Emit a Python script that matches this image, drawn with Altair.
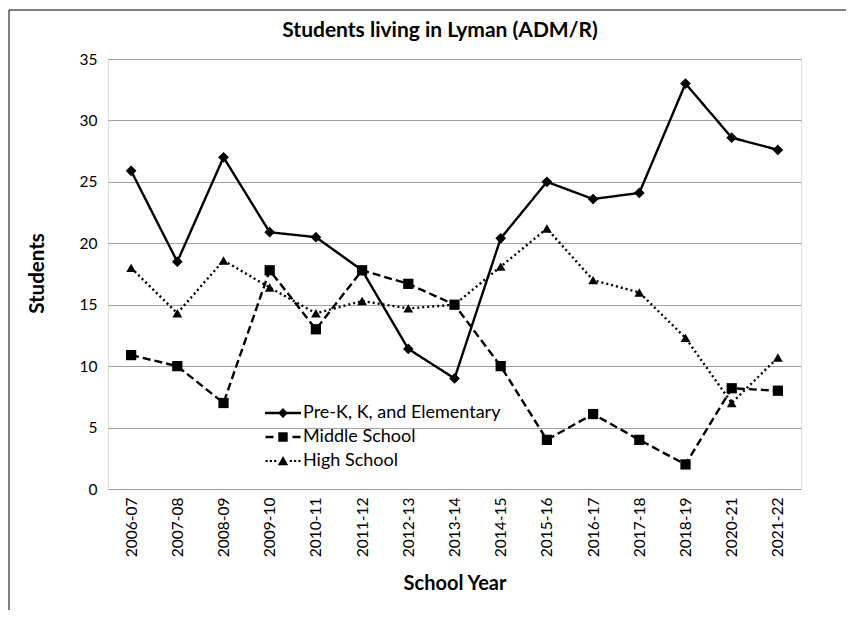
import altair as alt
import pandas as pd

years = ["2006-07", "2007-08", "2008-09", "2009-10", "2010-11", "2011-12", "2012-13",
         "2013-14", "2014-15", "2015-16", "2016-17", "2017-18", "2018-19", "2020-21", "2021-22"]
series_names = ["Pre-K, K, and Elementary", "Middle School", "High School"]
elementary = [25.9, 18.5, 27.0, 20.9, 20.5, 17.8, 11.4, 9.0, 20.4, 25.0, 23.6, 24.1, 33.0, 28.6, 27.6]
middle = [10.9, 10.0, 7.0, 17.8, 13.0, 17.8, 16.7, 15.0, 10.0, 4.0, 6.1, 4.0, 2.0, 8.2, 8.0]
high = [18.0, 14.3, 18.6, 16.4, 14.3, 15.3, 14.7, 15.0, 18.1, 21.2, 17.0, 16.0, 12.3, 7.0, 10.7]
title_text = "Students living in Lyman (ADM/R)"

rows = []
for name, vals in zip(series_names, [elementary, middle, high]):
    for y, v in zip(years, vals):
        rows.append({"year": y, "series": name, "value": v, "lg": name})
df = pd.DataFrame(rows)

FONT = "Lato"
x = alt.X("year:N", sort=years, scale=alt.Scale(domain=years, paddingInner=0, paddingOuter=0.5),
          axis=alt.Axis(title="School Year", labelAngle=-90, labelFont=FONT,
                        labelFontSize=15.5, labelColor="black", labelPadding=8, ticks=False,
                        domain=False, titleFont=FONT, titleFontSize=20, titleFontWeight="bold",
                        titleColor="black", titleY=94, titleBaseline="middle"))
y = alt.Y("value:Q", scale=alt.Scale(domain=[0, 35], nice=False),
          axis=alt.Axis(title="Students", values=[0, 5, 10, 15, 20, 25, 30, 35], ticks=False,
                        domain=False, labelFont=FONT, labelFontSize=15.5, labelColor="black",
                        labelPadding=11, gridColor="#a0a0a0", gridWidth=1,
                        titleFont=FONT, titleFontSize=20.5, titleFontWeight="bold",
                        titleColor="black", titleX=-71, titleY=214, titleBaseline="middle",
                        titleAlign="center"))

base = alt.Chart(df)

lines = base.mark_line(color="black", strokeWidth=2.4).encode(
    x=x, y=y, detail="series:N",
    strokeDash=alt.StrokeDash("series:N", scale=alt.Scale(domain=series_names,
                              range=[[1, 0], [8, 4], [2, 3]]), legend=None),
)

points = base.mark_point(filled=True, color="black", opacity=1).encode(
    x=x, y=y,
    shape=alt.Shape("series:N", scale=alt.Scale(domain=series_names,
                    range=["diamond", "square", "triangle-up"]), legend=None),
    size=alt.Size("series:N", scale=alt.Scale(domain=series_names, range=[115, 95, 130]), legend=None),
)

p_el = "M-1.8,-0.12H1.8V0.12H-1.8Z M0,-0.5L0.5,0L0,0.5L-0.5,0Z"
p_mid = ("M-1.75,-0.13H-0.95V0.13H-1.75Z M-0.47,-0.47H0.47V0.47H-0.47Z "
         "M0.95,-0.13H1.75V0.13H0.95Z")
p_high = ("M-1.75,-0.11H-1.53V0.11H-1.75Z M-1.32,-0.11H-1.1V0.11H-1.32Z M-0.89,-0.11H-0.67V0.11H-0.89Z "
          "M0,-0.5L0.52,0.42H-0.52Z "
          "M0.67,-0.11H0.89V0.11H0.67Z M1.1,-0.11H1.32V0.11H1.1Z M1.53,-0.11H1.75V0.11H1.53Z")

legend_layer = base.transform_filter("datum.value < 0").mark_point(filled=True, color="black", opacity=1).encode(
    x=x, y=y,
    shape=alt.Shape("lg:N", scale=alt.Scale(domain=series_names, range=[p_el, p_mid, p_high]),
                    legend=alt.Legend(title=None, orient="none", legendX=165, legendY=344,
                                      symbolSize=400, symbolStrokeWidth=0, symbolFillColor="black",
                                      symbolOpacity=1, labelLimit=400,
                                      labelFont=FONT, labelFontSize=18, labelColor="black",
                                      labelOffset=10, rowPadding=5, padding=0)),
)

frame = base.mark_rect(fill=None, stroke="black", strokeWidth=1).encode(
    x=alt.value(-99), x2=alt.value(800), y=alt.value(-49), y2=alt.value(700)
).transform_filter("datum.year == '2006-07' && datum.series == 'Middle School'")

title = base.mark_text(text=title_text, font=FONT, fontSize=21, fontWeight="bold", color="black",
                       align="center", baseline="middle").encode(
    x=alt.value(332), y=alt.value(-28)
).transform_filter("datum.year == '2006-07' && datum.series == 'Middle School'")

chart = alt.layer(frame, lines, points, legend_layer, title).resolve_scale(
    shape="independent"
).properties(
    width=693, height=430,
    autosize=alt.AutoSizeParams(type="none"),
    padding={"left": 100, "top": 51, "right": 45, "bottom": 121},
).configure_view(stroke="#868686", strokeWidth=1).configure(background="white")

chart.save("out.html", embed_options={"renderer": "svg", "actions": False})
